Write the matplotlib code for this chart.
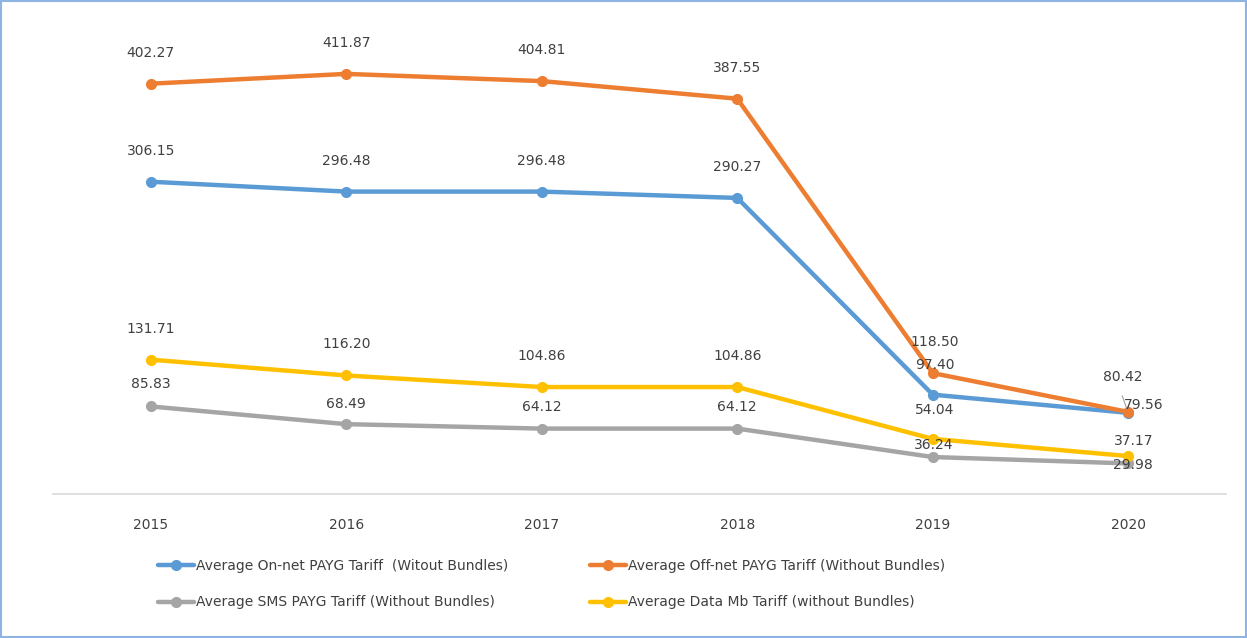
import matplotlib
matplotlib.use("Agg")
import matplotlib.pyplot as plt
from matplotlib.patches import Rectangle

years = ["2015", "2016", "2017", "2018", "2019", "2020"]
on_net = [306.15, 296.48, 296.48, 290.27, 97.40, 79.56]
off_net = [402.27, 411.87, 404.81, 387.55, 118.50, 80.42]
sms = [85.83, 68.49, 64.12, 64.12, 36.24, 29.98]
data_mb = [131.71, 116.20, 104.86, 104.86, 54.04, 37.17]

names = ["Average On-net PAYG Tariff  (Witout Bundles)",
         "Average Off-net PAYG Tariff (Without Bundles)",
         "Average SMS PAYG Tariff (Without Bundles)",
         "Average Data Mb Tariff (without Bundles)"]
colors = ["#5B9BD5", "#ED7D31", "#A5A5A5", "#FFC000"]
series = [on_net, off_net, sms, data_mb]

# label offsets in pixels (dx, dy) relative to each point
offsets = [
    [(0, 31), (0, 31), (0, 31), (0, 31), (2, 30), (15, 8)],
    [(0, 31), (0, 31), (0, 31), (0, 31), (2, 31), (-5, 35)],
    [(0, 22), (0, 20), (0, 22), (0, 22), (1, 12), (5, -2)],
    [(0, 31), (0, 31), (0, 31), (0, 31), (2, 29), (5, 15)],
]

plt.rcParams['font.family'] = ['Liberation Sans Narrow', 'DejaVu Sans']
txt_color = "#404040"
fs = 10

W, H = 1247, 638
fig = plt.figure(figsize=(W / 100, H / 100), dpi=100)
ax = fig.add_axes([53 / W, (H - 494) / H, 1173 / W, 459 / H])
ax.set_xlim(-0.5, 5.5)
ax.set_ylim(0, 450)

x = list(range(len(years)))
handles = []
for s, c, n, offs in zip(series, colors, names, offsets):
    h, = ax.plot(x, s, color=c, lw=3.2, marker='o', markersize=7,
                 solid_capstyle='round', label=n, zorder=3)
    handles.append(h)
    for xi, v, (dx, dy) in zip(x, s, offs):
        ax.annotate(f"{v:.2f}", (xi, v), xytext=(dx, dy),
                    textcoords='offset pixels', ha='center', va='center',
                    fontsize=fs, color=txt_color, zorder=5)

# leader line for 79.56
ax.annotate("", (5, on_net[5]), xytext=(-6, 17), textcoords='offset pixels',
            arrowprops=dict(arrowstyle='-', color='#A0A0A0', lw=0.8,
                            shrinkA=0, shrinkB=3))

for sp in ax.spines.values():
    sp.set_visible(False)
ax.axhline(0, color="#D9D9D9", lw=1.2, zorder=1, clip_on=False)
ax.set_yticks([])
ax.set_xticks(x)
ax.set_xticklabels(years, fontsize=fs, color=txt_color)
ax.tick_params(axis='x', length=0, pad=17)

leg_kw = dict(frameon=False, fontsize=fs, handlelength=2.6, handletextpad=0.15,
              labelspacing=1.65, borderpad=0, borderaxespad=0,
              loc='center left', bbox_transform=fig.transFigure, labelcolor=txt_color)
l1 = fig.legend([handles[0], handles[2]], [names[0], names[2]],
                bbox_to_anchor=(158 / W, 1 - 584 / H), **leg_kw)
l2 = fig.legend([handles[1], handles[3]], [names[1], names[3]],
                bbox_to_anchor=(590 / W, 1 - 584 / H), **leg_kw)

fig.patches.append(Rectangle((0.001, 0.001), 0.998, 0.997, transform=fig.transFigure,
                             fill=False, edgecolor="#8DB4E2", lw=1.5))

fig.savefig("out.png", dpi=100)
